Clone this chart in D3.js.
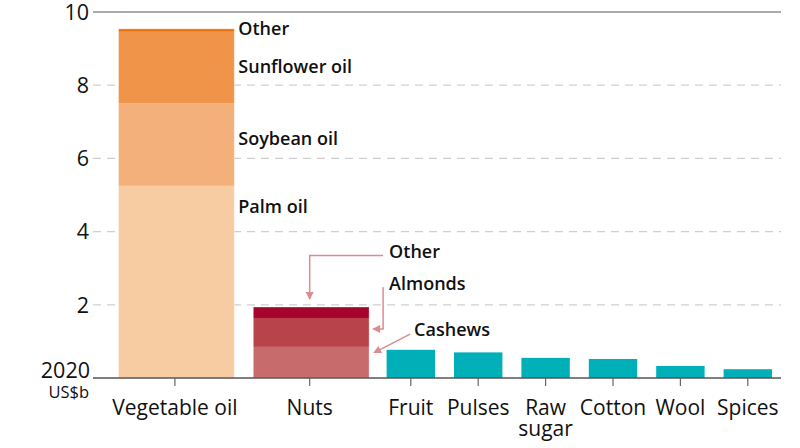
<!DOCTYPE html>
<html><head><meta charset="utf-8">
<script src="https://cdn.jsdelivr.net/npm/d3@7"></script>
<style>
body{margin:0;background:#fff;}
svg{display:block;font-family:"Open Sans","Noto Sans",sans-serif;}
</style></head>
<body><svg id="c" width="800" height="448"></svg>
<script>
// ---- data ----
const categories = ["Vegetable oil","Nuts","Fruit","Pulses","Raw\nsugar","Cotton","Wool","Spices"];
const vegOilSegments = ["Palm oil","Soybean oil","Sunflower oil","Other"];
const vegOilValues = [5.25, 2.26, 1.95, 0.08];
const nutSegments = ["Cashews","Almonds","Other"];
const nutValues = [0.85, 0.79, 0.30];
const otherCategories = ["Fruit","Pulses","Raw\nsugar","Cotton","Wool","Spices"];
const otherValues = [0.77, 0.70, 0.55, 0.52, 0.33, 0.24];
const yTicks = [2,4,6,8,10];

// ---- styles ----
const vegColors = ["#f8cca3","#f4b07a","#ef9448","#e8720f"];
const nutColors = ["#c86b6d","#b8434b","#a6042c"];
const tealColor = "#00afb8";
const annoColor = "#dc8c8f";

const svg = d3.select("#c");
const y = d3.scaleLinear().domain([0,10]).range([378,12]);

// category widths in units: stacked categories take two slots
const stacks = {"Vegetable oil":{names:vegOilSegments,vals:vegOilValues,colors:vegColors},
                "Nuts":{names:nutSegments,vals:nutValues,colors:nutColors}};
const units = categories.map(c => stacks[c] ? 2 : 1);
const cum = d3.cumsum(units);
const totalUnits = cum[cum.length-1];
const x = d3.scaleLinear().domain([0,totalUnits]).range([107.5, 107.5 + 67.4*totalUnits]);
const centers = categories.map((c,i)=> x(cum[i]-units[i]/2));
const unitW = x(1)-x(0);

// gridlines
const gx0 = 93, gx1 = 781;
svg.append("g").selectAll("line").data(yTicks.filter(t=>t<10)).join("line")
  .attr("x1",gx0).attr("x2",gx1).attr("y1",d=>y(d)).attr("y2",d=>y(d))
  .attr("stroke","#cfcfcf").attr("stroke-width",1.2).attr("stroke-dasharray","8,6");
svg.append("line").attr("x1",gx0).attr("x2",gx1).attr("y1",y(10)).attr("y2",y(10))
  .attr("stroke","#555").attr("stroke-width",1.2);

// bars
const barsG = svg.append("g");
categories.forEach((c,i)=>{
  const w = units[i]*unitW - 19;
  const x0 = centers[i]-w/2 + (units[i]===2 ? 1.5 : 0);
  if (stacks[c]) {
    const s = stacks[c];
    const tops = d3.cumsum(s.vals);
    s.vals.forEach((v,j)=>{
      const b = j===0?0:tops[j-1];
      barsG.append("rect").attr("x",x0).attr("width",w)
        .attr("y",y(tops[j])).attr("height",y(b)-y(tops[j]))
        .attr("fill",s.colors[j]);
    });
    barsG.append("rect").attr("x",x0).attr("width",w)
      .attr("y",y(tops[tops.length-1])).attr("height",y(0)-y(tops[tops.length-1]))
      .attr("fill","none").attr("stroke","rgba(255,255,255,0.35)").attr("stroke-width",1);
  } else {
    const v = otherValues[otherCategories.indexOf(c)];
    barsG.append("rect").attr("x",x0).attr("width",w)
      .attr("y",y(v)).attr("height",y(0)-y(v)).attr("fill",tealColor);
  }
});

// zero axis
svg.append("line").attr("x1",gx0).attr("x2",gx1).attr("y1",y(0)).attr("y2",y(0))
  .attr("stroke","#555").attr("stroke-width",1.3);
svg.append("g").selectAll("line").data(centers).join("line")
  .attr("x1",d=>d).attr("x2",d=>d).attr("y1",y(0)).attr("y2",y(0)+8)
  .attr("stroke","#666").attr("stroke-width",1.2);

// y labels
svg.append("g").selectAll("text").data(yTicks).join("text")
  .attr("x",89).attr("y",d=>y(d)).attr("dy","0.36em").attr("text-anchor","end")
  .attr("font-size",21.5).attr("fill","#111").text(d=>d);
svg.append("text").attr("x",90).attr("y",y(0)).attr("text-anchor","end")
  .attr("font-size",21.5).attr("fill","#111").text("2020");
svg.append("text").attr("x",89).attr("y",y(0)+20).attr("text-anchor","end")
  .attr("font-size",16.5).attr("fill","#111").text("US$b");

// x labels
const xl = svg.append("g").attr("font-size",21).attr("fill","#111").attr("text-anchor","middle");
categories.forEach((c,i)=>{
  const t = xl.append("text").attr("x",centers[i]).attr("y",415);
  c.split("\n").forEach((line,k)=>{
    t.append("tspan").attr("x",centers[i]).attr("dy",k===0?0:21).text(line);
  });
});

// vegetable oil segment labels
const vegLabelVals = [4.68, 6.53, 8.5, 9.54];
const vegRight = centers[0] + (2*unitW-19)/2 + 1.5;
const lblSize = 18, lblWeight = 600;
svg.append("g").selectAll("text").data(vegOilSegments).join("text")
  .attr("x",vegRight+4).attr("y",(d,i)=>y(vegLabelVals[i])).attr("dy","0.35em")
  .attr("font-size",lblSize).attr("font-weight",lblWeight).attr("fill","#111").text(d=>d);

// nut annotations
const nutRight = centers[1] + (2*unitW-19)/2 + 1.5;
const nutTops = d3.cumsum(nutValues);
const ann = svg.append("g");
function arrowHead(tx,ty,angle){
  ann.append("path").attr("d","M0,0 L-8,-4 L-8,4 Z")
    .attr("transform",`translate(${tx},${ty}) rotate(${angle})`).attr("fill",annoColor);
}
const annTextX = nutRight + 20;
// Other
ann.append("path").attr("d",`M${annTextX-6},${y(3.35)} H${centers[1]} V${y(nutTops[2])-8}`)
  .attr("fill","none").attr("stroke",annoColor).attr("stroke-width",1.5);
arrowHead(centers[1], y(nutTops[2])-7, 90);
// Almonds
ann.append("path").attr("d",`M${annTextX-6},${y(2.48)} V${y(1.34)} H${nutRight+4}`)
  .attr("fill","none").attr("stroke",annoColor).attr("stroke-width",1.5);
arrowHead(nutRight+3, y(1.34), 180);
// Cashews
const cx0 = annTextX+21, cy0 = y(1.2), cx1 = nutRight+4, cy1 = y(0.68);
ann.append("path").attr("d",`M${cx0},${cy0} L${cx1+4},${cy1-2}`)
  .attr("fill","none").attr("stroke",annoColor).attr("stroke-width",1.5);
arrowHead(cx1, cy1, Math.atan2(cy1-cy0, cx1-cx0)*180/Math.PI);

const annLabels = svg.append("g").attr("font-size",lblSize).attr("font-weight",lblWeight).attr("fill","#111");
annLabels.append("text").attr("x",annTextX).attr("y",y(3.45)).attr("dy","0.35em").text(nutSegments[2]);
annLabels.append("text").attr("x",annTextX).attr("y",y(2.58)).attr("dy","0.35em").text(nutSegments[1]);
annLabels.append("text").attr("x",annTextX+25).attr("y",y(1.31)).attr("dy","0.35em").text(nutSegments[0]);
</script></body></html>
